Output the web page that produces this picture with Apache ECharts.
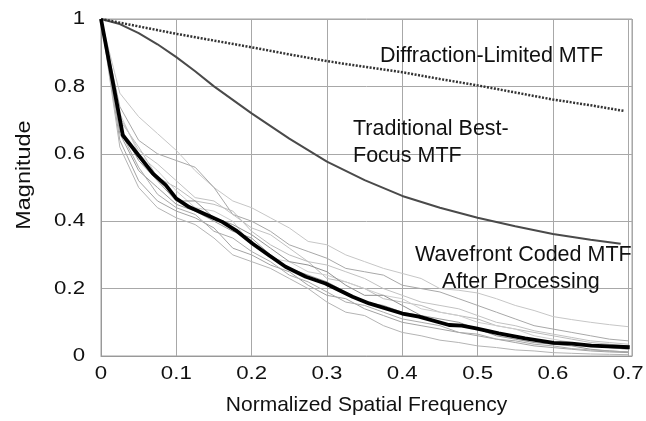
<!DOCTYPE html>
<html>
<head>
<meta charset="utf-8">
<script src="https://cdn.jsdelivr.net/npm/echarts@6/dist/echarts.min.js"></script>
<style>
  html, body { margin: 0; padding: 0; background: #fff; }
  #chart { width: 646px; height: 421px; }
</style>
</head>
<body>
<div id="chart"></div>
<script>
// Diffraction-limited MTF (dotted)
const diffX = [0, 0.05, 0.1, 0.15, 0.2, 0.25, 0.3, 0.35, 0.4, 0.45, 0.5, 0.55, 0.6, 0.65, 0.695];
const diffY = [1, 0.978, 0.956, 0.936, 0.916, 0.895, 0.875, 0.858, 0.842, 0.822, 0.803, 0.782, 0.761, 0.744, 0.727];

// Traditional best-focus MTF
const tradX = [0, 0.025, 0.05, 0.075, 0.1, 0.125, 0.15, 0.2, 0.25, 0.3, 0.35, 0.4, 0.45, 0.5, 0.55, 0.6, 0.65, 0.69];
const tradY = [1, 0.985, 0.958, 0.925, 0.887, 0.845, 0.80, 0.72, 0.645, 0.577, 0.522, 0.475, 0.44, 0.41, 0.385, 0.362, 0.345, 0.333];

// Wavefront coded MTF after processing: mean curve
const meanX = [0, 0.029, 0.069, 0.086, 0.1, 0.117, 0.148, 0.161, 0.179, 0.201, 0.223, 0.245, 0.272, 0.298, 0.334, 0.356, 0.4, 0.422, 0.462, 0.479, 0.498, 0.528, 0.563, 0.601, 0.625, 0.651, 0.702];
const meanY = [1, 0.655, 0.541, 0.507, 0.467, 0.442, 0.411, 0.398, 0.373, 0.334, 0.299, 0.265, 0.235, 0.215, 0.176, 0.156, 0.126, 0.117, 0.092, 0.090, 0.082, 0.067, 0.052, 0.039, 0.037, 0.031, 0.026];

// Individual wavefront coded MTF curves
const indivX = [0, 0.025, 0.05, 0.075, 0.1, 0.125, 0.15, 0.175, 0.2, 0.225, 0.25, 0.275, 0.3, 0.325, 0.35, 0.375, 0.4, 0.425, 0.45, 0.475, 0.5, 0.525, 0.55, 0.575, 0.6, 0.625, 0.65, 0.675, 0.7];
const indiv1  = [1, 0.78, 0.71, 0.66, 0.61, 0.55, 0.50, 0.46, 0.44, 0.41, 0.38, 0.34, 0.33, 0.30, 0.28, 0.26, 0.245, 0.23, 0.20, 0.195, 0.187, 0.17, 0.15, 0.135, 0.117, 0.108, 0.10, 0.093, 0.087];
const indiv2  = [1, 0.74, 0.64, 0.60, 0.58, 0.56, 0.50, 0.42, 0.40, 0.37, 0.33, 0.31, 0.29, 0.26, 0.25, 0.24, 0.21, 0.20, 0.19, 0.17, 0.15, 0.13, 0.11, 0.09, 0.08, 0.07, 0.06, 0.05, 0.045];
const indiv3  = [1, 0.70, 0.62, 0.53, 0.50, 0.46, 0.45, 0.43, 0.37, 0.33, 0.30, 0.28, 0.23, 0.22, 0.20, 0.17, 0.16, 0.15, 0.13, 0.12, 0.11, 0.09, 0.08, 0.07, 0.06, 0.05, 0.04, 0.035, 0.03];
const indiv4  = [1, 0.66, 0.55, 0.50, 0.45, 0.43, 0.40, 0.37, 0.35, 0.30, 0.26, 0.24, 0.22, 0.19, 0.16, 0.15, 0.13, 0.12, 0.11, 0.10, 0.08, 0.07, 0.06, 0.05, 0.04, 0.035, 0.03, 0.025, 0.02];
const indiv5  = [1, 0.72, 0.60, 0.55, 0.49, 0.44, 0.43, 0.40, 0.33, 0.29, 0.28, 0.25, 0.24, 0.22, 0.20, 0.18, 0.17, 0.14, 0.13, 0.12, 0.10, 0.09, 0.08, 0.06, 0.05, 0.04, 0.03, 0.025, 0.02];
const indiv6  = [1, 0.64, 0.52, 0.46, 0.43, 0.41, 0.38, 0.32, 0.30, 0.27, 0.25, 0.21, 0.18, 0.17, 0.14, 0.12, 0.10, 0.09, 0.08, 0.07, 0.06, 0.05, 0.04, 0.03, 0.025, 0.02, 0.015, 0.012, 0.01];
const indiv7  = [1, 0.62, 0.50, 0.44, 0.41, 0.39, 0.35, 0.30, 0.28, 0.26, 0.23, 0.20, 0.16, 0.13, 0.12, 0.09, 0.07, 0.06, 0.047, 0.04, 0.03, 0.025, 0.018, 0.015, 0.01, 0.008, 0.006, 0.005, 0.004];
const indiv8  = [1, 0.68, 0.58, 0.52, 0.46, 0.46, 0.41, 0.39, 0.36, 0.32, 0.28, 0.27, 0.25, 0.21, 0.18, 0.18, 0.15, 0.12, 0.10, 0.09, 0.08, 0.06, 0.05, 0.04, 0.035, 0.03, 0.02, 0.015, 0.012];
const indiv9  = [1, 0.71, 0.61, 0.57, 0.52, 0.47, 0.46, 0.42, 0.38, 0.36, 0.32, 0.28, 0.27, 0.25, 0.23, 0.20, 0.18, 0.16, 0.15, 0.14, 0.12, 0.10, 0.09, 0.075, 0.065, 0.055, 0.045, 0.04, 0.035];
const indiv10 = [1, 0.67, 0.56, 0.48, 0.44, 0.42, 0.37, 0.35, 0.31, 0.28, 0.24, 0.22, 0.19, 0.16, 0.15, 0.13, 0.11, 0.10, 0.09, 0.07, 0.065, 0.05, 0.045, 0.035, 0.03, 0.022, 0.018, 0.015, 0.012];
const indivCurves = [indiv1, indiv2, indiv3, indiv4, indiv5, indiv6, indiv7, indiv8, indiv9, indiv10];
const indivColors = ['#c6c6c6', '#a8a8a8', '#bcbcbc', '#9c9c9c', '#cdcdcd', '#a2a2a2', '#b4b4b4', '#929292', '#c2c2c2', '#ababab'];

// Axis ticks and text
const xTicks = [0, 0.1, 0.2, 0.3, 0.4, 0.5, 0.6, 0.7];
const yTicks = [0, 0.2, 0.4, 0.6, 0.8, 1];
const xTickText = ['0', '0.1', '0.2', '0.3', '0.4', '0.5', '0.6', '0.7'];
const yTickText = ['0', '0.2', '0.4', '0.6', '0.8', '1'];
const xTitle = 'Normalized Spatial Frequency';
const yTitle = 'Magnitude';

const pairs = (xs, ys) => xs.map((x, i) => [x, ys[i]]);
const FONT = '"Liberation Sans", Arial, Helvetica, sans-serif';

const series = [];
indivCurves.forEach((c, i) => {
  series.push({
    type: 'line', data: pairs(indivX, c), symbol: 'none', z: 2,
    lineStyle: { color: indivColors[i], width: 1 }
  });
});
series.push({
  type: 'line', data: pairs(meanX, meanY), symbol: 'none', z: 4,
  lineStyle: { color: '#000', width: 3.8 }
});
series.push({
  type: 'line', data: pairs(tradX, tradY), symbol: 'none', z: 3,
  lineStyle: { color: '#4a4a4a', width: 2 }
});
series.push({
  type: 'line', data: pairs(diffX, diffY), symbol: 'none', z: 3,
  lineStyle: { color: '#333', width: 2.5, type: [2, 1.5] }
});

const chart = echarts.init(document.getElementById('chart'), null, { renderer: 'canvas' });
chart.setOption({
  backgroundColor: '#fff',
  animation: false,
  grid: { left: 101, right: 14, top: 19, bottom: 65, show: true, borderColor: '#a0a0a0', borderWidth: 1 },
  xAxis: {
    type: 'value', min: 0, max: 0.705, interval: 0.1,
    axisLine: { show: true, lineStyle: { color: '#999', width: 1 } },
    axisTick: { show: false },
    axisLabel: { show: false },
    splitLine: { show: true, lineStyle: { color: '#a8a8a8', width: 1 } }
  },
  yAxis: {
    type: 'value', min: 0, max: 1, interval: 0.2,
    axisLine: { show: true, lineStyle: { color: '#999', width: 1 } },
    axisTick: { show: false },
    axisLabel: { show: false },
    splitLine: { show: true, lineStyle: { color: '#a8a8a8', width: 1 } }
  },
  series: series
});

// Text drawn as graphic elements so glyph proportions can be tuned
function txt(text, x, y, size, align, vAlign, opts) {
  const o = opts || {};
  return {
    type: 'text', x: x, y: y, z: 10,
    scaleX: o.sx || 1, scaleY: o.sy || 1, rotation: o.rot || 0,
    style: {
      text: text, font: size + 'px ' + FONT, fill: '#111',
      align: align, verticalAlign: vAlign,
      textAlign: align, textVerticalAlign: vAlign,
      lineHeight: o.lh
    }
  };
}

const graphics = [];
const axisBottom = chart.convertToPixel({ gridIndex: 0 }, [0, 0]);
xTicks.forEach((v, i) => {
  const p = chart.convertToPixel({ gridIndex: 0 }, [v, 0]);
  graphics.push(txt(xTickText[i], p[0], p[1] + 18, 19, 'center', 'middle', { sx: 1.17 }));
});
yTicks.forEach((v, i) => {
  const p = chart.convertToPixel({ gridIndex: 0 }, [0, v]);
  graphics.push(txt(yTickText[i], p[0] - 16, p[1], 19, 'right', 'middle', { sx: 1.17 }));
});
const midX = (chart.convertToPixel({ gridIndex: 0 }, [0, 0])[0] + chart.convertToPixel({ gridIndex: 0 }, [0.705, 0])[0]) / 2;
graphics.push(txt(xTitle, midX, axisBottom[1] + 49, 21, 'center', 'middle'));
graphics.push(txt(yTitle, 24, 175, 20, 'center', 'middle', { rot: Math.PI / 2, sx: 1.17 }));

// Curve annotations
graphics.push(txt('Diffraction-Limited MTF', 380, 56, 21.5, 'left', 'middle'));
graphics.push(txt('Traditional Best-', 353, 129, 21.5, 'left', 'middle'));
graphics.push(txt('Focus MTF', 353, 156, 21.5, 'left', 'middle'));
graphics.push(txt('Wavefront Coded MTF', 415, 255, 21.5, 'left', 'middle'));
graphics.push(txt('After Processing', 442, 282, 21.5, 'left', 'middle'));

chart.setOption({ graphic: graphics });
</script>
</body>
</html>
